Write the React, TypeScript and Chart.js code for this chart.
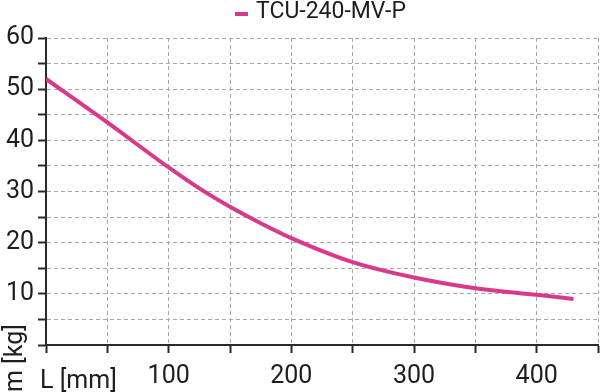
import React, { useEffect, useRef } from "react";
import { Chart, registerables } from "chart.js";

Chart.register(...registerables);

const seriesLabel = "TCU-240-MV-P";
const lengthMm = [0, 50, 100, 125, 150, 175, 200, 250, 300, 350, 400, 430];
const massKg = [52, 43.5, 34.7, 30.6, 27.0, 23.8, 20.9, 16.2, 13.2, 11.1, 9.8, 9.0];
const xAxisLabel = "L [mm]";
const yAxisLabel = "m [kg]";
const xTickLabels = [100, 200, 300, 400];
const yTickLabels = [10, 20, 30, 40, 50, 60];

const FONT = "Roboto, 'Noto Sans', sans-serif";
const PINK = "#d8398b";
const TEXT = "#1e1e1e";
const AXIS = "#2a2a2a";
const GRID = "#a8a8a8";

const extrasPlugin = {
  id: "extras",
  afterDraw(chart: any) {
    const ctx = chart.ctx;
    ctx.save();
    // legend
    const ds = chart.data.datasets[0];
    ctx.fillStyle = ds.borderColor;
    ctx.fillRect(235, 12, 13, 4);
    ctx.fillStyle = TEXT;
    ctx.font = `23px ${FONT}`;
    ctx.textAlign = "left";
    ctx.textBaseline = "alphabetic";
    ctx.fillText(ds.label, 256, 18);
    // x axis label
    ctx.font = `25px ${FONT}`;
    ctx.fillText(xAxisLabel, 40, 388);
    // y axis label (rotated)
    ctx.translate(22, 392);
    ctx.rotate(-Math.PI / 2);
    ctx.fillText(yAxisLabel, 0, 0);
    ctx.restore();
  },
};

export default function App() {
  const ref = useRef<HTMLCanvasElement | null>(null);
  useEffect(() => {
    document.body.style.margin = "0";
    const canvas = ref.current;
    if (!canvas) return;
    const chart = new Chart(canvas, {
      type: "line",
      data: {
        datasets: [
          {
            label: seriesLabel,
            data: lengthMm.map((x, i) => ({ x, y: massKg[i] })),
            borderColor: PINK,
            backgroundColor: PINK,
            borderWidth: 4,
            pointRadius: 0,
            cubicInterpolationMode: "monotone",
            fill: false,
          },
        ],
      },
      options: {
        responsive: false,
        animation: false,
        layout: { padding: { top: 38, right: 2, left: 0, bottom: 0 } },
        plugins: {
          legend: { display: false },
          tooltip: { enabled: false },
        },
        scales: {
          x: {
            type: "linear",
            min: 0,
            max: 450,
            afterFit: (s: any) => {
              s.height = 47;
              s.paddingLeft = 0;
              s.paddingRight = 0;
            },
            grid: {
              color: GRID,
              lineWidth: 1,
              tickColor: AXIS,
              tickLength: 8,
              tickWidth: 2,
            },
            border: { display: true, color: AXIS, width: 2, dash: [4, 3] },
            ticks: {
              stepSize: 50,
              autoSkip: false,
              maxRotation: 0,
              padding: 9,
              color: TEXT,
              font: { family: FONT, size: 25 },
              callback: (v: any) => (xTickLabels.includes(Number(v)) ? String(v) : ""),
            },
          },
          y: {
            type: "linear",
            min: 0,
            max: 60,
            afterFit: (s: any) => {
              s.width = 46;
              s.paddingTop = 0;
              s.paddingBottom = 0;
            },
            grid: {
              color: GRID,
              lineWidth: 1,
              tickColor: AXIS,
              tickLength: 8,
              tickWidth: 2,
            },
            border: { display: true, color: AXIS, width: 2, dash: [4, 3] },
            ticks: {
              stepSize: 5,
              autoSkip: false,
              padding: 4,
              color: TEXT,
              font: { family: FONT, size: 25 },
              callback: (v: any) => (yTickLabels.includes(Number(v)) ? String(v) : ""),
            },
          },
        },
      },
      plugins: [extrasPlugin],
    } as any);
    return () => chart.destroy();
  }, []);
  return (
    <div style={{ width: 600, height: 392 }}>
      <canvas ref={ref} width={600} height={392} style={{ display: "block" }} />
    </div>
  );
}
